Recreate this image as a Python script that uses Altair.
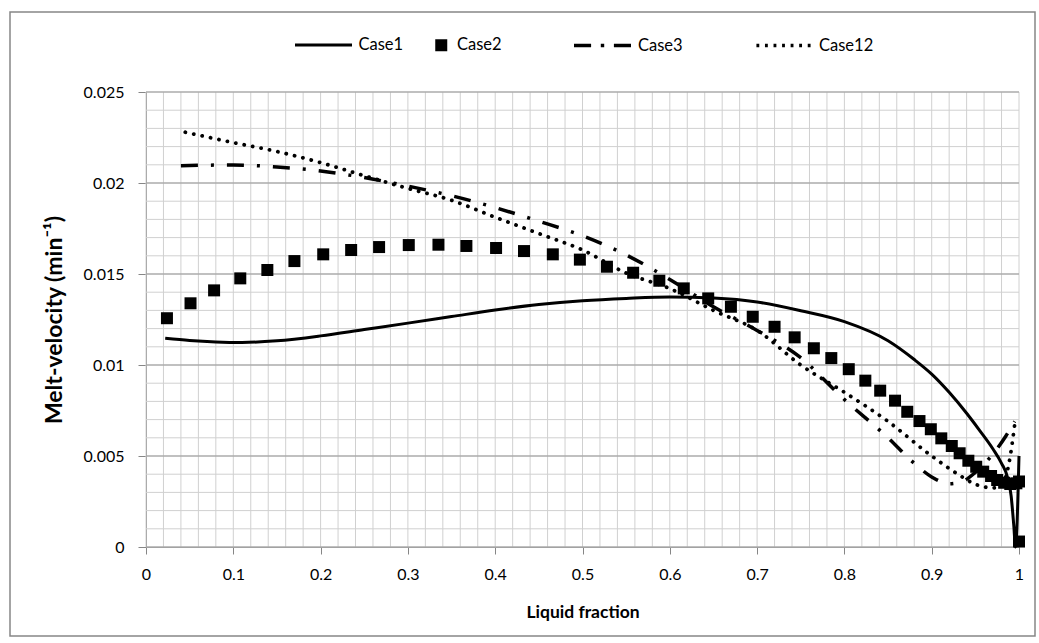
import altair as alt
import pandas as pd

FONT = "Lato"

# ---------------- data ----------------
case1_x = [0.022, 0.05, 0.08, 0.11, 0.15, 0.20, 0.25, 0.30, 0.35, 0.40, 0.45, 0.50,
           0.55, 0.60, 0.65, 0.70, 0.75, 0.80, 0.85, 0.88, 0.90, 0.92, 0.94, 0.955,
           0.97, 0.98, 0.987, 0.991, 0.994, 0.996, 1.0]
case1_y = [0.01147, 0.01135, 0.01127, 0.01124, 0.01133, 0.01160, 0.01195, 0.01230,
           0.01266, 0.01302, 0.01332, 0.01353, 0.01366, 0.01374, 0.01368, 0.01346,
           0.01298, 0.01238, 0.01133, 0.01030, 0.00950, 0.00850, 0.00735, 0.00640,
           0.00540, 0.00460, 0.00380, 0.00280, 0.00120, 0.0, 0.0050]

case2_x = [0.024, 0.051, 0.078, 0.108, 0.139, 0.170, 0.203, 0.235, 0.267, 0.301,
           0.335, 0.367, 0.401, 0.433, 0.466, 0.497, 0.528, 0.558, 0.588, 0.616,
           0.644, 0.670, 0.695, 0.720, 0.743, 0.765, 0.785, 0.805, 0.824, 0.841,
           0.858, 0.872, 0.886, 0.899, 0.911, 0.923, 0.932, 0.942, 0.951, 0.959,
           0.968, 0.975, 0.983, 0.990, 0.997, 1.0, 1.0]
case2_y = [0.01257, 0.01339, 0.01410, 0.01476, 0.01522, 0.01571, 0.01608, 0.01632,
           0.01648, 0.01659, 0.01661, 0.01654, 0.01643, 0.01626, 0.01608, 0.01579,
           0.01540, 0.01507, 0.01463, 0.01421, 0.01366, 0.01320, 0.01265, 0.01210,
           0.01152, 0.01092, 0.01038, 0.00977, 0.00914, 0.00859, 0.00804, 0.00743,
           0.00692, 0.00647, 0.00597, 0.00555, 0.00515, 0.00474, 0.00441, 0.00414,
           0.00390, 0.00368, 0.00353, 0.00346, 0.00350, 0.00360, 0.00030]

case3_x = [0.04, 0.10, 0.15, 0.20, 0.25, 0.30, 0.35, 0.40, 0.45, 0.50, 0.55, 0.60,
           0.65, 0.70, 0.75, 0.80, 0.85, 0.88, 0.90, 0.92, 0.935, 0.95, 0.97, 0.985,
           0.995]
case3_y = [0.02095, 0.02099, 0.02088, 0.02066, 0.02030, 0.01983, 0.01930, 0.01865,
           0.01790, 0.01710, 0.01605, 0.01470, 0.01320, 0.01190, 0.01040, 0.00810,
           0.00600, 0.00460, 0.00385, 0.00348, 0.00360, 0.00410, 0.00510, 0.00610,
           0.00690]

case12_x = [0.045, 0.10, 0.15, 0.20, 0.25, 0.30, 0.35, 0.40, 0.45, 0.50, 0.55, 0.60,
            0.65, 0.70, 0.75, 0.80, 0.85, 0.90, 0.93, 0.95, 0.97, 0.98, 0.99, 0.995]
case12_y = [0.02279, 0.02222, 0.02173, 0.02112, 0.02040, 0.01970, 0.01905, 0.01812,
            0.01722, 0.01632, 0.01505, 0.01420, 0.01300, 0.01190, 0.01000, 0.00850,
            0.00690, 0.00500, 0.00400, 0.00345, 0.00325, 0.00340, 0.00500, 0.00670]

series_names = ["Case1", "Case2", "Case3", "Case12"]

x_ticks = [0, 0.1, 0.2, 0.3, 0.4, 0.5, 0.6, 0.7, 0.8, 0.9, 1]
y_ticks = [0, 0.005, 0.01, 0.015, 0.02, 0.025]
x_minor = [i / 50 for i in range(51)]
y_minor = [i / 1000 for i in range(26)]

# ---------------- frames ----------------
df1 = pd.DataFrame({"x": case1_x, "y": case1_y})
df2 = pd.DataFrame({"x": case2_x, "y": case2_y})
df3 = pd.DataFrame({"x": case3_x, "y": case3_y})
df12 = pd.DataFrame({"x": case12_x, "y": case12_y})
dfx_minor = pd.DataFrame({"x": x_minor})
dfy_minor = pd.DataFrame({"y": y_minor})
dfy_major = pd.DataFrame({"y": y_ticks})

W, H = 873, 455
AX = "#868686"
LBL = 16
TTL = 17.5
LEG = 16.5

x_axis = alt.Axis(values=x_ticks, format="~g", grid=False, domainColor=AX, tickColor=AX,
                  tickSize=7, labelPadding=12, labelFont=FONT, labelFontSize=LBL,
                  labelColor="black", labelFlush=False, title="Liquid fraction",
                  titleFont=FONT, titleFontSize=TTL, titleFontWeight="bold",
                  titleColor="black", titlePadding=21)
y_axis = alt.Axis(values=y_ticks, format="~g", grid=False, domainColor=AX, tickColor=AX,
                  tickSize=8, labelPadding=14, labelFont=FONT, labelFontSize=LBL,
                  labelColor="black", labelFlush=False, title="Melt-velocity (min⁻¹)",
                  titleFont=FONT, titleFontSize=23, titleFontWeight="bold",
                  titleColor="black", titlePadding=17)

xs = alt.Scale(domain=[0, 1], nice=False, zero=False)
ys = alt.Scale(domain=[0, 0.025], nice=False, zero=False)
X = alt.X("x:Q", scale=xs, axis=x_axis)
Y = alt.Y("y:Q", scale=ys, axis=y_axis)

border = alt.Chart(pd.DataFrame({"a": [0]})).mark_rect(
    fill="white", fillOpacity=0, stroke=AX, strokeWidth=1.5
).encode(x=alt.value(-136), x2=alt.value(889), y=alt.value(-80), y2=alt.value(544))

grid_x = alt.Chart(dfx_minor).mark_rule(color="#d0d0d0", strokeWidth=1).encode(x=X)
grid_y = alt.Chart(dfy_minor).mark_rule(color="#d0d0d0", strokeWidth=1).encode(y=Y)
grid_y_major = alt.Chart(dfy_major).mark_rule(color="#999999", strokeWidth=1).encode(y=Y)

line1 = alt.Chart(df1).mark_line(color="black", strokeWidth=3, interpolate="monotone").encode(x=X, y=Y)
squares = alt.Chart(df2).mark_point(shape="square", filled=True, color="black", size=144,
                                    opacity=1).encode(x=X, y=Y)
line3 = alt.Chart(df3).mark_line(color="black", strokeWidth=3.5, strokeDash=[17, 13, 3, 13],
                                 interpolate="monotone").encode(x=X, y=Y)
line12 = alt.Chart(df12).mark_line(color="black", strokeWidth=3.8, strokeDash=[0.1, 8.5],
                                   strokeCap="round", interpolate="monotone").encode(x=X, y=Y)

# ---------------- legend (one entry per legend, placed like the reference) ----------------
g_line = "M-1,0H1"
g_dashdot = "M-1,0H-0.4M-0.06,0H0.06M0.4,0H1"
g_dot = ("M-0.95,0H-0.85M-0.65,0H-0.55M-0.35,0H-0.25M-0.05,0H0.05"
         "M0.25,0H0.35M0.55,0H0.65M0.85,0H0.95")

firsts = {
    "Case1": (case1_x[0], case1_y[0]),
    "Case2": (case2_x[0], case2_y[0]),
    "Case3": (case3_x[0], case3_y[0]),
    "Case12": (case12_x[0], case12_y[0]),
}


def legend_layer(name, glyph, size, sw, lx, ly, loff, filled):
    d = pd.DataFrame({"x": [firsts[name][0]], "y": [firsts[name][1]], "series": [name]})
    return alt.Chart(d).mark_point(filled=filled, opacity=0, size=size, strokeWidth=sw).encode(
        x=X, y=Y,
        color=alt.Color("series:N", scale=alt.Scale(domain=[name], range=["black"]),
                        legend=alt.Legend(orient="none", legendX=lx, legendY=ly,
                                          title=None, padding=0,
                                          symbolType=glyph, symbolSize=size,
                                          symbolStrokeWidth=sw, symbolStrokeColor="black",
                                          symbolFillColor="black" if filled else "transparent",
                                          symbolOpacity=1,
                                          labelFont=FONT, labelFontSize=LEG,
                                          labelColor="black", labelOffset=loff)),
    )


leg1 = legend_layer(series_names[0], g_line, 3249, 3, 147.5, -77, 5, False)
leg2 = legend_layer(series_names[1], "square", 144, 0, 287, -55, 7.5, True)
leg3 = legend_layer(series_names[2], g_dashdot, 3249, 3.5, 426, -77, 5, False)
leg12 = legend_layer(series_names[3], g_dot, 3249, 3.5, 607, -77, 5, False)

chart = alt.layer(border, grid_x, grid_y, grid_y_major, line1, squares, line3, line12,
                  leg1, leg2, leg3, leg12).resolve_scale(color="independent").properties(
    width=W, height=H,
    padding={"left": 146, "top": 92, "right": 20, "bottom": 96},
    autosize=alt.AutoSizeParams(type="none"),
    background="white",
).configure_view(stroke=None)

chart.save("out.html", embed_options={"renderer": "svg", "actions": False})
